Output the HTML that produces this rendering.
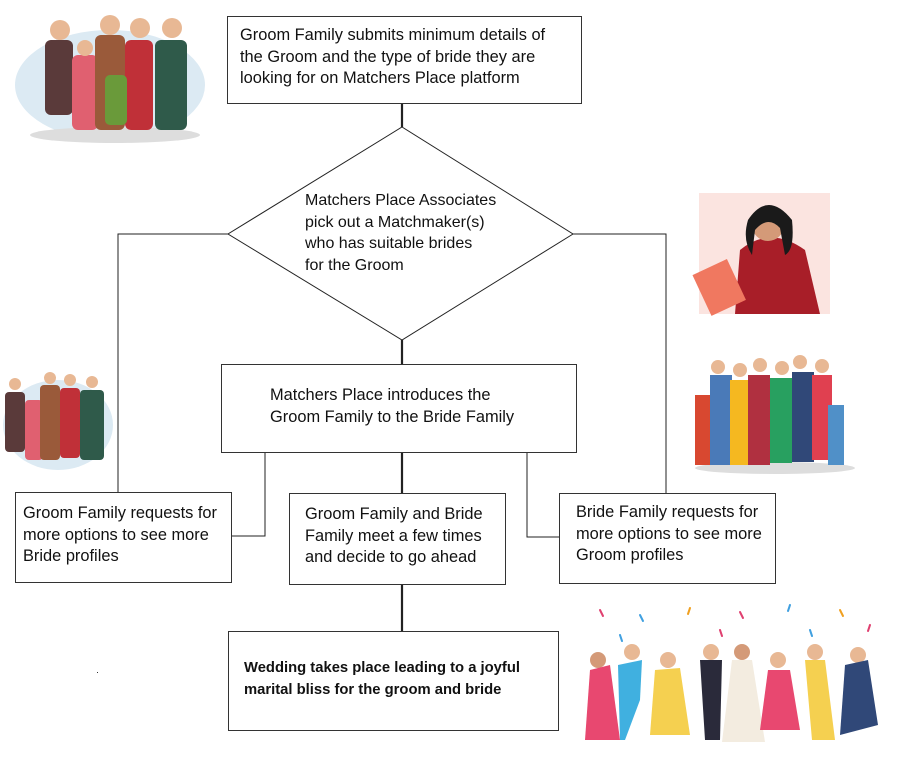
<!DOCTYPE html>
<html><head><meta charset="utf-8"><style>
body{margin:0;background:#fff;width:900px;height:760px;overflow:hidden;position:relative;font-family:"Liberation Sans",sans-serif;color:#111}
.b{position:absolute;border:1.3px solid #333;background:#fff;box-sizing:border-box;font-size:16.4px;line-height:21.5px;white-space:nowrap}
svg{position:absolute;left:0;top:0}
</style></head><body>
<svg width="900" height="760">
<g stroke="#222" fill="none">
<line x1="402" y1="103" x2="402" y2="127" stroke-width="2.2"/>
<polygon points="402,127 573,234 402,340 228,234" stroke-width="1"/>
<polyline points="228,234 118,234 118,492" stroke-width="1"/>
<polyline points="573,234 666,234 666,493" stroke-width="1"/>
<line x1="402" y1="340" x2="402" y2="364" stroke-width="2.2"/>
<line x1="402" y1="452" x2="402" y2="493" stroke-width="2.2"/>
<polyline points="265,452 265,536 231,536" stroke-width="1"/>
<polyline points="527,452 527,537 559,537" stroke-width="1"/>
<line x1="402" y1="584" x2="402" y2="631" stroke-width="2.2"/>
</g>
<g>
<ellipse cx="110" cy="85" rx="95" ry="55" fill="#dceaf3"/>
<ellipse cx="115" cy="135" rx="85" ry="8" fill="#ddd"/>
<rect x="45" y="40" width="28" height="75" rx="6" fill="#5a3a3a"/>
<rect x="72" y="55" width="26" height="75" rx="6" fill="#e06070"/>
<rect x="95" y="35" width="30" height="95" rx="6" fill="#9a5a3a"/>
<rect x="125" y="40" width="28" height="90" rx="6" fill="#c03038"/>
<rect x="155" y="40" width="32" height="90" rx="6" fill="#2f5a4a"/>
<rect x="105" y="75" width="22" height="50" rx="5" fill="#6a9a3a"/>
<circle cx="60" cy="30" r="10" fill="#e8b894"/><circle cx="110" cy="25" r="10" fill="#e8b894"/><circle cx="140" cy="28" r="10" fill="#e8b894"/><circle cx="172" cy="28" r="10" fill="#e8b894"/><circle cx="85" cy="48" r="8" fill="#e8b894"/>
</g>
<g>
<ellipse cx="58" cy="425" rx="55" ry="45" fill="#dceaf3"/>
<rect x="5" y="392" width="20" height="60" rx="4" fill="#5a3a3a"/>
<rect x="25" y="400" width="18" height="60" rx="4" fill="#e06070"/>
<rect x="40" y="385" width="20" height="75" rx="4" fill="#9a5a3a"/>
<rect x="60" y="388" width="20" height="70" rx="4" fill="#c03038"/>
<rect x="80" y="390" width="24" height="70" rx="4" fill="#2f5a4a"/>
<circle cx="15" cy="384" r="6" fill="#e8b894"/><circle cx="50" cy="378" r="6" fill="#e8b894"/><circle cx="70" cy="380" r="6" fill="#e8b894"/><circle cx="92" cy="382" r="6" fill="#e8b894"/>
</g>
<g>
<rect x="699" y="193" width="131" height="121" fill="#fbe4e0"/>
<path d="M740 250 Q770 225 805 250 L820 314 L735 314 Z" fill="#a81e28"/>
<rect x="700" y="265" width="38" height="45" fill="#f07860" transform="rotate(-25 719 287)"/>
<circle cx="768" cy="225" r="16" fill="#d49a78"/>
<path d="M748 220 Q768 190 792 220 Q795 250 785 255 L780 228 Q768 215 755 230 L752 255 Q742 240 748 220Z" fill="#1a1a1a"/>
</g>
<g>
<ellipse cx="775" cy="468" rx="80" ry="6" fill="#ddd"/>
<rect x="695" y="395" width="18" height="70" fill="#d84830"/>
<rect x="710" y="375" width="22" height="90" fill="#4a7ab8"/>
<rect x="730" y="380" width="20" height="85" fill="#f5b820"/>
<rect x="748" y="375" width="22" height="90" fill="#b03040"/>
<rect x="770" y="378" width="22" height="85" fill="#28a060"/>
<rect x="792" y="372" width="22" height="90" fill="#304878"/>
<rect x="812" y="375" width="20" height="85" fill="#e04050"/>
<rect x="828" y="405" width="16" height="60" fill="#5090c8"/>
<circle cx="718" cy="367" r="7" fill="#e8b894"/><circle cx="740" cy="370" r="7" fill="#e8b894"/><circle cx="760" cy="365" r="7" fill="#e8b894"/><circle cx="782" cy="368" r="7" fill="#e8b894"/><circle cx="800" cy="362" r="7" fill="#e8b894"/><circle cx="822" cy="366" r="7" fill="#e8b894"/>
</g>
<g>
<g stroke-width="2" stroke-linecap="round">
<line x1="600" y1="610" x2="603" y2="616" stroke="#e04070"/><line x1="640" y1="615" x2="643" y2="621" stroke="#40a0e0"/><line x1="690" y1="608" x2="688" y2="614" stroke="#f0a020"/><line x1="740" y1="612" x2="743" y2="618" stroke="#e04070"/><line x1="790" y1="605" x2="788" y2="611" stroke="#40a0e0"/><line x1="840" y1="610" x2="843" y2="616" stroke="#f0a020"/><line x1="870" y1="625" x2="868" y2="631" stroke="#e04070"/><line x1="620" y1="635" x2="622" y2="641" stroke="#40a0e0"/><line x1="720" y1="630" x2="722" y2="636" stroke="#e04070"/><line x1="810" y1="630" x2="812" y2="636" stroke="#40a0e0"/>
</g>
<circle cx="598" cy="660" r="8" fill="#d49a78"/><circle cx="632" cy="652" r="8" fill="#e8b894"/><circle cx="668" cy="660" r="8" fill="#e8b894"/><circle cx="711" cy="652" r="8" fill="#e8b894"/><circle cx="742" cy="652" r="8" fill="#d49a78"/><circle cx="778" cy="660" r="8" fill="#e8b894"/><circle cx="815" cy="652" r="8" fill="#e8b894"/><circle cx="858" cy="655" r="8" fill="#e8b894"/>
<path d="M590 670 L610 665 L620 740 L585 740Z" fill="#e84870"/>
<path d="M618 665 L642 660 L640 700 L625 740 L620 740Z" fill="#40b0e0"/>
<path d="M655 670 L680 668 L690 735 L650 735Z" fill="#f5d050"/>
<path d="M700 660 L722 660 L720 740 L705 740Z" fill="#2a2a3a"/>
<path d="M732 660 L752 660 L765 742 L722 742Z" fill="#f3ece0"/>
<path d="M768 670 L790 670 L800 730 L760 730Z" fill="#e84870"/>
<path d="M805 660 L825 660 L835 740 L812 740Z" fill="#f5d050"/>
<path d="M845 665 L868 660 L878 725 L840 735Z" fill="#304878"/>
</g>
</svg>
<div class="b" style="left:227px;top:16px;width:355px;height:88px;padding:8px 0 0 12px">Groom Family submits minimum details of<br>the Groom and the type of bride they are<br>looking for on Matchers Place platform</div>
<div style="position:absolute;left:305px;top:190px;font-size:16px;line-height:21.7px;white-space:nowrap">Matchers Place Associates<br>pick out a Matchmaker(s)<br>who has suitable brides<br>for the Groom</div>
<div class="b" style="left:221px;top:364px;width:356px;height:89px;padding:20px 0 0 48px">Matchers Place introduces the<br>Groom Family to the Bride Family</div>
<div class="b" style="left:15px;top:492px;width:217px;height:91px;padding:10px 0 0 7px">Groom Family requests for<br>more options to see more<br>Bride profiles</div>
<div class="b" style="left:289px;top:493px;width:217px;height:92px;padding:10px 0 0 15px">Groom Family and Bride<br>Family meet a few times<br>and decide to go ahead</div>
<div class="b" style="left:559px;top:493px;width:217px;height:91px;padding:8px 0 0 16px">Bride Family requests for<br>more options to see more<br>Groom profiles</div>
<div class="b" style="left:228px;top:631px;width:331px;height:100px;padding:26px 0 0 15px;font-weight:bold;font-size:14.8px">Wedding takes place leading to a joyful<br>marital bliss for the groom and bride</div>
<div style="position:absolute;left:97px;top:672px;width:1px;height:1px;background:#333"></div>
</body></html>
